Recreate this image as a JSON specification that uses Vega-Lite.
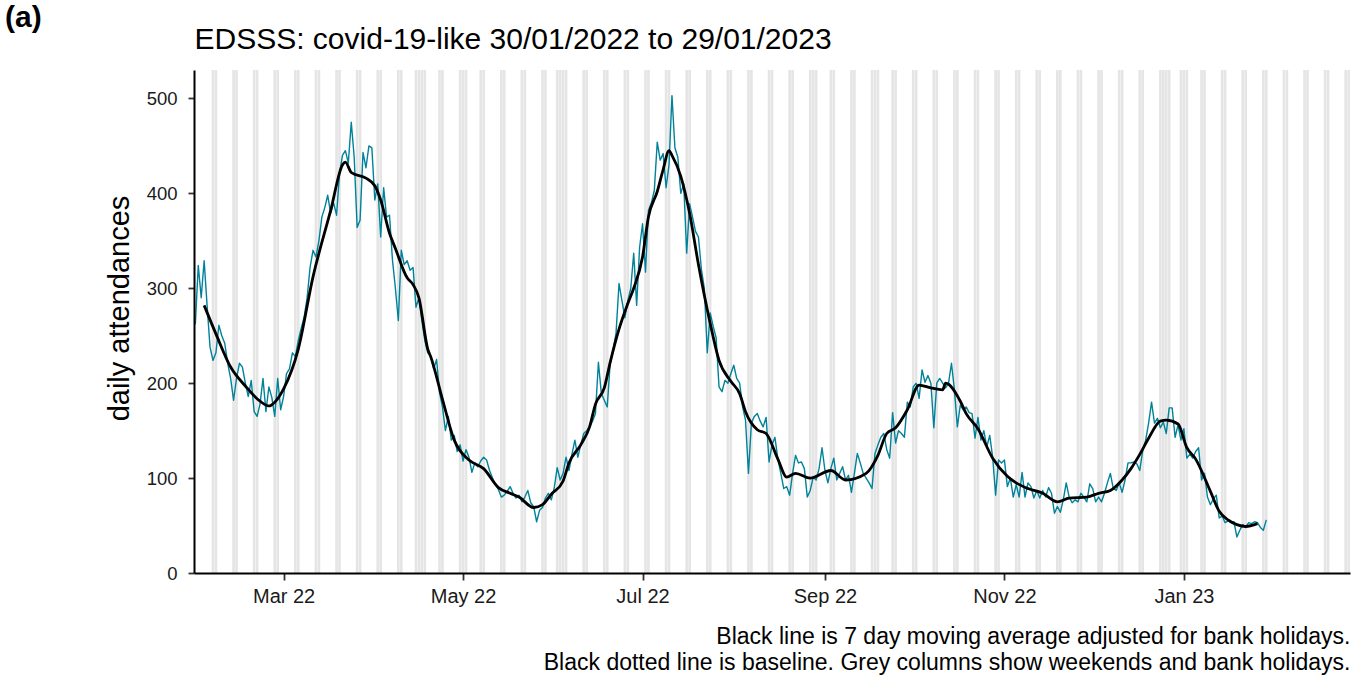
{
"$schema": "https://vega.github.io/schema/vega-lite/v6.json",
"width": 1156,
"height": 503,
"autosize": {"type": "none"},
"padding": {"left": 194, "top": 70, "right": 17, "bottom": 104},
"background": "white",
"config": {"view": {"stroke": null}, "font": "Liberation Sans"},
"title": {"text": "(a)", "anchor": "start", "frame": "group", "dx": -189, "offset": -33, "baseline": "alphabetic", "fontSize": 30, "fontWeight": "bold", "color": "black", "font": "Liberation Sans"},
"datasets": {
"grey": [
{"g":"2022-02-05"},{"g":"2022-02-06"},{"g":"2022-02-12"},{"g":"2022-02-13"},{"g":"2022-02-19"},{"g":"2022-02-20"},{"g":"2022-02-26"},{"g":"2022-02-27"},
{"g":"2022-03-05"},{"g":"2022-03-06"},{"g":"2022-03-12"},{"g":"2022-03-13"},{"g":"2022-03-19"},{"g":"2022-03-20"},{"g":"2022-03-26"},{"g":"2022-03-27"},
{"g":"2022-04-02"},{"g":"2022-04-03"},{"g":"2022-04-09"},{"g":"2022-04-10"},{"g":"2022-04-15"},{"g":"2022-04-16"},{"g":"2022-04-17"},{"g":"2022-04-18"},{"g":"2022-04-23"},{"g":"2022-04-24"},{"g":"2022-04-30"},
{"g":"2022-05-01"},{"g":"2022-05-02"},{"g":"2022-05-07"},{"g":"2022-05-08"},{"g":"2022-05-14"},{"g":"2022-05-15"},{"g":"2022-05-21"},{"g":"2022-05-22"},{"g":"2022-05-28"},{"g":"2022-05-29"},
{"g":"2022-06-02"},{"g":"2022-06-03"},{"g":"2022-06-04"},{"g":"2022-06-05"},{"g":"2022-06-11"},{"g":"2022-06-12"},{"g":"2022-06-18"},{"g":"2022-06-19"},{"g":"2022-06-25"},{"g":"2022-06-26"},
{"g":"2022-07-02"},{"g":"2022-07-03"},{"g":"2022-07-09"},{"g":"2022-07-10"},{"g":"2022-07-16"},{"g":"2022-07-17"},{"g":"2022-07-23"},{"g":"2022-07-24"},{"g":"2022-07-30"},{"g":"2022-07-31"},
{"g":"2022-08-06"},{"g":"2022-08-07"},{"g":"2022-08-13"},{"g":"2022-08-14"},{"g":"2022-08-20"},{"g":"2022-08-21"},{"g":"2022-08-27"},{"g":"2022-08-28"},{"g":"2022-08-29"},
{"g":"2022-09-03"},{"g":"2022-09-04"},{"g":"2022-09-10"},{"g":"2022-09-11"},{"g":"2022-09-17"},{"g":"2022-09-18"},{"g":"2022-09-19"},{"g":"2022-09-24"},{"g":"2022-09-25"},
{"g":"2022-10-01"},{"g":"2022-10-02"},{"g":"2022-10-08"},{"g":"2022-10-09"},{"g":"2022-10-15"},{"g":"2022-10-16"},{"g":"2022-10-22"},{"g":"2022-10-23"},{"g":"2022-10-29"},{"g":"2022-10-30"},
{"g":"2022-11-05"},{"g":"2022-11-06"},{"g":"2022-11-12"},{"g":"2022-11-13"},{"g":"2022-11-19"},{"g":"2022-11-20"},{"g":"2022-11-26"},{"g":"2022-11-27"},
{"g":"2022-12-03"},{"g":"2022-12-04"},{"g":"2022-12-10"},{"g":"2022-12-11"},{"g":"2022-12-17"},{"g":"2022-12-18"},{"g":"2022-12-24"},{"g":"2022-12-25"},{"g":"2022-12-26"},{"g":"2022-12-27"},{"g":"2022-12-31"},
{"g":"2023-01-01"},{"g":"2023-01-02"},{"g":"2023-01-07"},{"g":"2023-01-08"},{"g":"2023-01-14"},{"g":"2023-01-15"},{"g":"2023-01-21"},{"g":"2023-01-22"},{"g":"2023-01-28"},{"g":"2023-01-29"},
{"g":"2023-02-04"},{"g":"2023-02-05"},{"g":"2023-02-11"},{"g":"2023-02-12"},{"g":"2023-02-18"},{"g":"2023-02-19"},{"g":"2023-02-25"},{"g":"2023-02-26"}
],
"daily": [
{"date":"2022-01-30","n":262},{"date":"2022-01-31","n":324},
{"date":"2022-02-01","n":290},{"date":"2022-02-02","n":329},{"date":"2022-02-03","n":282},{"date":"2022-02-04","n":238},{"date":"2022-02-05","n":224},{"date":"2022-02-06","n":232},{"date":"2022-02-07","n":261},
{"date":"2022-02-08","n":250},{"date":"2022-02-09","n":242},{"date":"2022-02-10","n":221},{"date":"2022-02-11","n":205},{"date":"2022-02-12","n":182},{"date":"2022-02-13","n":205},{"date":"2022-02-14","n":221},
{"date":"2022-02-15","n":217},{"date":"2022-02-16","n":200},{"date":"2022-02-17","n":186},{"date":"2022-02-18","n":203},{"date":"2022-02-19","n":170},{"date":"2022-02-20","n":165},{"date":"2022-02-21","n":178},
{"date":"2022-02-22","n":205},{"date":"2022-02-23","n":170},{"date":"2022-02-24","n":196},{"date":"2022-02-25","n":185},{"date":"2022-02-26","n":165},{"date":"2022-02-27","n":205},{"date":"2022-02-28","n":172},
{"date":"2022-03-01","n":186},{"date":"2022-03-02","n":210},{"date":"2022-03-03","n":215},{"date":"2022-03-04","n":232},{"date":"2022-03-05","n":228},{"date":"2022-03-06","n":245},{"date":"2022-03-07","n":258},
{"date":"2022-03-08","n":270},{"date":"2022-03-09","n":290},{"date":"2022-03-10","n":322},{"date":"2022-03-11","n":340},{"date":"2022-03-12","n":333},{"date":"2022-03-13","n":350},{"date":"2022-03-14","n":375},
{"date":"2022-03-15","n":385},{"date":"2022-03-16","n":398},{"date":"2022-03-17","n":379},{"date":"2022-03-18","n":390},{"date":"2022-03-19","n":377},{"date":"2022-03-20","n":420},{"date":"2022-03-21","n":440},
{"date":"2022-03-22","n":445},{"date":"2022-03-23","n":432},{"date":"2022-03-24","n":475},{"date":"2022-03-25","n":438},{"date":"2022-03-26","n":364},{"date":"2022-03-27","n":372},{"date":"2022-03-28","n":443},
{"date":"2022-03-29","n":427},{"date":"2022-03-30","n":450},{"date":"2022-03-31","n":448},
{"date":"2022-04-01","n":393},{"date":"2022-04-02","n":410},{"date":"2022-04-03","n":354},{"date":"2022-04-04","n":406},{"date":"2022-04-05","n":375},{"date":"2022-04-06","n":377},{"date":"2022-04-07","n":330},
{"date":"2022-04-08","n":300},{"date":"2022-04-09","n":266},{"date":"2022-04-10","n":340},{"date":"2022-04-11","n":325},{"date":"2022-04-12","n":329},{"date":"2022-04-13","n":319},{"date":"2022-04-14","n":322},
{"date":"2022-04-15","n":280},{"date":"2022-04-16","n":290},{"date":"2022-04-17","n":266},{"date":"2022-04-18","n":245},{"date":"2022-04-19","n":232},{"date":"2022-04-20","n":228},{"date":"2022-04-21","n":215},
{"date":"2022-04-22","n":225},{"date":"2022-04-23","n":190},{"date":"2022-04-24","n":175},{"date":"2022-04-25","n":150},{"date":"2022-04-26","n":165},{"date":"2022-04-27","n":140},{"date":"2022-04-28","n":145},
{"date":"2022-04-29","n":128},{"date":"2022-04-30","n":135},
{"date":"2022-05-01","n":118},{"date":"2022-05-02","n":130},{"date":"2022-05-03","n":122},{"date":"2022-05-04","n":106},{"date":"2022-05-05","n":116},{"date":"2022-05-06","n":112},{"date":"2022-05-07","n":118},
{"date":"2022-05-08","n":122},{"date":"2022-05-09","n":119},{"date":"2022-05-10","n":108},{"date":"2022-05-11","n":100},{"date":"2022-05-12","n":93},{"date":"2022-05-13","n":88},{"date":"2022-05-14","n":80},
{"date":"2022-05-15","n":82},{"date":"2022-05-16","n":86},{"date":"2022-05-17","n":91},{"date":"2022-05-18","n":84},{"date":"2022-05-19","n":79},{"date":"2022-05-20","n":82},{"date":"2022-05-21","n":75},
{"date":"2022-05-22","n":80},{"date":"2022-05-23","n":87},{"date":"2022-05-24","n":74},{"date":"2022-05-25","n":70},{"date":"2022-05-26","n":54},{"date":"2022-05-27","n":66},{"date":"2022-05-28","n":69},
{"date":"2022-05-29","n":79},{"date":"2022-05-30","n":84},{"date":"2022-05-31","n":77},
{"date":"2022-06-01","n":90},{"date":"2022-06-02","n":111},{"date":"2022-06-03","n":98},{"date":"2022-06-04","n":105},{"date":"2022-06-05","n":122},{"date":"2022-06-06","n":108},{"date":"2022-06-07","n":125},
{"date":"2022-06-08","n":140},{"date":"2022-06-09","n":122},{"date":"2022-06-10","n":135},{"date":"2022-06-11","n":147},{"date":"2022-06-12","n":150},{"date":"2022-06-13","n":154},{"date":"2022-06-14","n":160},
{"date":"2022-06-15","n":168},{"date":"2022-06-16","n":222},{"date":"2022-06-17","n":189},{"date":"2022-06-18","n":182},{"date":"2022-06-19","n":175},{"date":"2022-06-20","n":221},{"date":"2022-06-21","n":235},
{"date":"2022-06-22","n":253},{"date":"2022-06-23","n":305},{"date":"2022-06-24","n":287},{"date":"2022-06-25","n":269},{"date":"2022-06-26","n":287},{"date":"2022-06-27","n":300},{"date":"2022-06-28","n":337},
{"date":"2022-06-29","n":282},{"date":"2022-06-30","n":343},
{"date":"2022-07-01","n":368},{"date":"2022-07-02","n":317},{"date":"2022-07-03","n":382},{"date":"2022-07-04","n":390},{"date":"2022-07-05","n":403},{"date":"2022-07-06","n":454},{"date":"2022-07-07","n":435},
{"date":"2022-07-08","n":442},{"date":"2022-07-09","n":406},{"date":"2022-07-10","n":430},{"date":"2022-07-11","n":503},{"date":"2022-07-12","n":448},{"date":"2022-07-13","n":438},{"date":"2022-07-14","n":400},
{"date":"2022-07-15","n":410},{"date":"2022-07-16","n":337},{"date":"2022-07-17","n":389},{"date":"2022-07-18","n":375},{"date":"2022-07-19","n":360},{"date":"2022-07-20","n":354},{"date":"2022-07-21","n":320},
{"date":"2022-07-22","n":300},{"date":"2022-07-23","n":232},{"date":"2022-07-24","n":274},{"date":"2022-07-25","n":260},{"date":"2022-07-26","n":248},{"date":"2022-07-27","n":196},{"date":"2022-07-28","n":191},
{"date":"2022-07-29","n":203},{"date":"2022-07-30","n":200},{"date":"2022-07-31","n":210},
{"date":"2022-08-01","n":219},{"date":"2022-08-02","n":205},{"date":"2022-08-03","n":200},{"date":"2022-08-04","n":175},{"date":"2022-08-05","n":161},{"date":"2022-08-06","n":105},{"date":"2022-08-07","n":158},
{"date":"2022-08-08","n":165},{"date":"2022-08-09","n":168},{"date":"2022-08-10","n":160},{"date":"2022-08-11","n":154},{"date":"2022-08-12","n":164},{"date":"2022-08-13","n":117},{"date":"2022-08-14","n":135},
{"date":"2022-08-15","n":143},{"date":"2022-08-16","n":120},{"date":"2022-08-17","n":105},{"date":"2022-08-18","n":89},{"date":"2022-08-19","n":91},{"date":"2022-08-20","n":82},{"date":"2022-08-21","n":105},
{"date":"2022-08-22","n":124},{"date":"2022-08-23","n":116},{"date":"2022-08-24","n":117},{"date":"2022-08-25","n":110},{"date":"2022-08-26","n":80},{"date":"2022-08-27","n":87},{"date":"2022-08-28","n":101},
{"date":"2022-08-29","n":98},{"date":"2022-08-30","n":110},{"date":"2022-08-31","n":132},
{"date":"2022-09-01","n":108},{"date":"2022-09-02","n":95},{"date":"2022-09-03","n":110},{"date":"2022-09-04","n":121},{"date":"2022-09-05","n":98},{"date":"2022-09-06","n":105},{"date":"2022-09-07","n":112},
{"date":"2022-09-08","n":98},{"date":"2022-09-09","n":103},{"date":"2022-09-10","n":85},{"date":"2022-09-11","n":105},{"date":"2022-09-12","n":126},{"date":"2022-09-13","n":116},{"date":"2022-09-14","n":105},
{"date":"2022-09-15","n":100},{"date":"2022-09-16","n":95},{"date":"2022-09-17","n":89},{"date":"2022-09-18","n":126},{"date":"2022-09-19","n":135},{"date":"2022-09-20","n":143},{"date":"2022-09-21","n":147},
{"date":"2022-09-22","n":130},{"date":"2022-09-23","n":121},{"date":"2022-09-24","n":169},{"date":"2022-09-25","n":137},{"date":"2022-09-26","n":150},{"date":"2022-09-27","n":147},{"date":"2022-09-28","n":143},
{"date":"2022-09-29","n":180},{"date":"2022-09-30","n":175},
{"date":"2022-10-01","n":196},{"date":"2022-10-02","n":200},{"date":"2022-10-03","n":184},{"date":"2022-10-04","n":214},{"date":"2022-10-05","n":201},{"date":"2022-10-06","n":208},{"date":"2022-10-07","n":200},
{"date":"2022-10-08","n":153},{"date":"2022-10-09","n":200},{"date":"2022-10-10","n":205},{"date":"2022-10-11","n":200},{"date":"2022-10-12","n":195},{"date":"2022-10-13","n":200},{"date":"2022-10-14","n":221},
{"date":"2022-10-15","n":193},{"date":"2022-10-16","n":154},{"date":"2022-10-17","n":177},{"date":"2022-10-18","n":172},{"date":"2022-10-19","n":175},{"date":"2022-10-20","n":169},{"date":"2022-10-21","n":168},
{"date":"2022-10-22","n":142},{"date":"2022-10-23","n":164},{"date":"2022-10-24","n":140},{"date":"2022-10-25","n":150},{"date":"2022-10-26","n":133},{"date":"2022-10-27","n":145},{"date":"2022-10-28","n":122},
{"date":"2022-10-29","n":82},{"date":"2022-10-30","n":119},{"date":"2022-10-31","n":116},
{"date":"2022-11-01","n":119},{"date":"2022-11-02","n":91},{"date":"2022-11-03","n":100},{"date":"2022-11-04","n":80},{"date":"2022-11-05","n":93},{"date":"2022-11-06","n":80},{"date":"2022-11-07","n":106},
{"date":"2022-11-08","n":80},{"date":"2022-11-09","n":95},{"date":"2022-11-10","n":91},{"date":"2022-11-11","n":79},{"date":"2022-11-12","n":87},{"date":"2022-11-13","n":79},{"date":"2022-11-14","n":87},
{"date":"2022-11-15","n":80},{"date":"2022-11-16","n":90},{"date":"2022-11-17","n":84},{"date":"2022-11-18","n":63},{"date":"2022-11-19","n":70},{"date":"2022-11-20","n":64},{"date":"2022-11-21","n":77},
{"date":"2022-11-22","n":95},{"date":"2022-11-23","n":80},{"date":"2022-11-24","n":74},{"date":"2022-11-25","n":77},{"date":"2022-11-26","n":75},{"date":"2022-11-27","n":84},{"date":"2022-11-28","n":80},
{"date":"2022-11-29","n":75},{"date":"2022-11-30","n":94},
{"date":"2022-12-01","n":89},{"date":"2022-12-02","n":75},{"date":"2022-12-03","n":80},{"date":"2022-12-04","n":75},{"date":"2022-12-05","n":84},{"date":"2022-12-06","n":95},{"date":"2022-12-07","n":105},
{"date":"2022-12-08","n":89},{"date":"2022-12-09","n":87},{"date":"2022-12-10","n":95},{"date":"2022-12-11","n":85},{"date":"2022-12-12","n":98},{"date":"2022-12-13","n":116},{"date":"2022-12-14","n":116},
{"date":"2022-12-15","n":117},{"date":"2022-12-16","n":115},{"date":"2022-12-17","n":108},{"date":"2022-12-18","n":129},{"date":"2022-12-19","n":140},{"date":"2022-12-20","n":158},{"date":"2022-12-21","n":180},
{"date":"2022-12-22","n":158},{"date":"2022-12-23","n":163},{"date":"2022-12-24","n":153},{"date":"2022-12-25","n":159},{"date":"2022-12-26","n":147},{"date":"2022-12-27","n":174},{"date":"2022-12-28","n":174},
{"date":"2022-12-29","n":143},{"date":"2022-12-30","n":156},{"date":"2022-12-31","n":140},
{"date":"2023-01-01","n":152},{"date":"2023-01-02","n":121},{"date":"2023-01-03","n":125},{"date":"2023-01-04","n":121},{"date":"2023-01-05","n":128},{"date":"2023-01-06","n":132},{"date":"2023-01-07","n":98},
{"date":"2023-01-08","n":105},{"date":"2023-01-09","n":80},{"date":"2023-01-10","n":72},{"date":"2023-01-11","n":78},{"date":"2023-01-12","n":82},{"date":"2023-01-13","n":58},{"date":"2023-01-14","n":60},
{"date":"2023-01-15","n":53},{"date":"2023-01-16","n":55},{"date":"2023-01-17","n":53},{"date":"2023-01-18","n":54},{"date":"2023-01-19","n":38},{"date":"2023-01-20","n":45},{"date":"2023-01-21","n":51},
{"date":"2023-01-22","n":48},{"date":"2023-01-23","n":53},{"date":"2023-01-24","n":52},{"date":"2023-01-25","n":54},{"date":"2023-01-26","n":53},{"date":"2023-01-27","n":48},{"date":"2023-01-28","n":45},
{"date":"2023-01-29","n":56}
],
"ma": [
{"date":"2022-02-02","n":282},{"date":"2022-02-06","n":252},{"date":"2022-02-11","n":217},{"date":"2022-02-16","n":197},{"date":"2022-02-21","n":181},{"date":"2022-02-24","n":176},{"date":"2022-02-26","n":180},
{"date":"2022-03-01","n":194},{"date":"2022-03-06","n":236},{"date":"2022-03-11","n":312},{"date":"2022-03-17","n":382},{"date":"2022-03-21","n":430},{"date":"2022-03-22","n":433},{"date":"2022-03-24","n":422},
{"date":"2022-03-29","n":416},{"date":"2022-04-01","n":408},{"date":"2022-04-03","n":393},{"date":"2022-04-06","n":358},{"date":"2022-04-08","n":342},{"date":"2022-04-12","n":311},{"date":"2022-04-14","n":304},
{"date":"2022-04-16","n":290},{"date":"2022-04-19","n":236},{"date":"2022-04-20","n":228},{"date":"2022-04-24","n":183},{"date":"2022-04-28","n":140},{"date":"2022-05-03","n":119},{"date":"2022-05-08","n":110},
{"date":"2022-05-13","n":90},{"date":"2022-05-17","n":84},{"date":"2022-05-20","n":80},{"date":"2022-05-25","n":69},{"date":"2022-05-28","n":72},{"date":"2022-05-31","n":83},{"date":"2022-06-04","n":97},
{"date":"2022-06-06","n":116},{"date":"2022-06-10","n":135},{"date":"2022-06-13","n":154},{"date":"2022-06-15","n":178},{"date":"2022-06-18","n":195},{"date":"2022-06-20","n":222},{"date":"2022-06-23","n":257},
{"date":"2022-06-26","n":284},{"date":"2022-06-28","n":300},{"date":"2022-07-01","n":333},{"date":"2022-07-03","n":375},{"date":"2022-07-06","n":402},{"date":"2022-07-08","n":425},{"date":"2022-07-10","n":445},
{"date":"2022-07-11","n":440},{"date":"2022-07-14","n":418},{"date":"2022-07-17","n":379},{"date":"2022-07-20","n":325},{"date":"2022-07-24","n":263},{"date":"2022-07-27","n":224},{"date":"2022-07-31","n":202},
{"date":"2022-08-03","n":189},{"date":"2022-08-05","n":170},{"date":"2022-08-09","n":151},{"date":"2022-08-12","n":147},{"date":"2022-08-16","n":120},{"date":"2022-08-19","n":101},{"date":"2022-08-22","n":105},
{"date":"2022-08-27","n":100},{"date":"2022-09-03","n":108},{"date":"2022-09-08","n":98},{"date":"2022-09-15","n":105},{"date":"2022-09-19","n":124},{"date":"2022-09-22","n":147},{"date":"2022-09-25","n":153},
{"date":"2022-09-29","n":172},{"date":"2022-10-03","n":198},{"date":"2022-10-07","n":195},{"date":"2022-10-11","n":193},{"date":"2022-10-12","n":200},{"date":"2022-10-17","n":181},{"date":"2022-10-19","n":168},
{"date":"2022-10-23","n":152},{"date":"2022-10-28","n":121},{"date":"2022-11-02","n":102},{"date":"2022-11-05","n":95},{"date":"2022-11-09","n":89},{"date":"2022-11-14","n":84},{"date":"2022-11-19","n":75},
{"date":"2022-11-23","n":79},{"date":"2022-11-29","n":80},{"date":"2022-12-03","n":84},{"date":"2022-12-07","n":87},{"date":"2022-12-11","n":98},{"date":"2022-12-14","n":110},{"date":"2022-12-17","n":125},
{"date":"2022-12-20","n":142},{"date":"2022-12-24","n":160},{"date":"2022-12-26","n":161},{"date":"2022-12-30","n":157},{"date":"2023-01-02","n":132},{"date":"2023-01-05","n":120},{"date":"2023-01-10","n":86},
{"date":"2023-01-13","n":65},{"date":"2023-01-16","n":56},{"date":"2023-01-19","n":51},{"date":"2023-01-22","n":49},{"date":"2023-01-26","n":52}
]
},
"layer": [
{
"data": {"name": "grey"},
"mark": {"type": "rule", "color": "#e5e5e5", "strokeWidth": 2.65, "strokeCap": "butt"},
"encoding": {
"x": {"field": "g", "type": "temporal",
"scale": {"type": "utc", "domain": [{"year": 2022, "month": 1, "date": 29, "hours": 13, "minutes": 12, "utc": true}, {"year": 2023, "month": 2, "date": 26, "hours": 10, "minutes": 48, "utc": true}]},
"axis": {"orient": "bottom", "zindex": 1,
"values": [{"year": 2022, "month": 3, "date": 1, "utc": true}, {"year": 2022, "month": 5, "date": 1, "utc": true}, {"year": 2022, "month": 7, "date": 1, "utc": true}, {"year": 2022, "month": 9, "date": 1, "utc": true}, {"year": 2022, "month": 11, "date": 1, "utc": true}, {"year": 2023, "month": 1, "date": 1, "utc": true}],
"format": "%b %y", "labelFontSize": 20, "labelColor": "#1a1a1a", "labelPadding": 6, "labelFlush": false,
"tickColor": "#333333", "tickSize": 7, "tickWidth": 1.8, "domainColor": "black", "domainWidth": 2, "grid": false,
"title": ["Black line is 7 day moving average adjusted for bank holidays.\u00a0\u00a0\u00a0", "Black dotted line is baseline. Grey columns show weekends and bank holidays."],
"titleFontSize": 23, "titleFontWeight": "normal", "titleColor": "black", "titleAnchor": "end", "titleAlign": "right", "titlePadding": 19, "titleLineHeight": 26}
}
}
},
{
"data": {"name": "daily"},
"mark": {"type": "line", "color": "#00829A", "strokeWidth": 1.4, "strokeJoin": "round"},
"encoding": {
"x": {"field": "date", "type": "temporal",
"scale": {"type": "utc", "domain": [{"year": 2022, "month": 1, "date": 29, "hours": 13, "minutes": 12, "utc": true}, {"year": 2023, "month": 2, "date": 26, "hours": 10, "minutes": 48, "utc": true}]},
"axis": {"orient": "top", "labels": false, "ticks": false, "domain": false, "grid": false,
"title": "EDSSS: covid-19-like 30/01/2022 to 29/01/2023", "titleFontSize": 30, "titleFontWeight": "normal", "titleColor": "black", "titleAnchor": "start", "titleAlign": "left", "titleBaseline": "alphabetic", "titlePadding": 22}},
"y": {"field": "n", "type": "quantitative",
"scale": {"domain": [0, 530], "nice": false},
"axis": {"values": [0, 100, 200, 300, 400, 500], "zindex": 1, "grid": false,
"labelFontSize": 18.5, "labelColor": "#1a1a1a", "labelPadding": 11,
"tickColor": "#333333", "tickSize": 6, "tickWidth": 1.8, "domainColor": "black", "domainWidth": 2,
"title": "daily attendances", "titleFontSize": 29, "titleFontWeight": "normal", "titleColor": "black", "titlePadding": 12, "titleY": 238}}
}
},
{
"data": {"name": "ma"},
"mark": {"type": "line", "color": "black", "strokeWidth": 2.8, "interpolate": "monotone", "strokeJoin": "round"},
"encoding": {
"x": {"field": "date", "type": "temporal",
"scale": {"type": "utc", "domain": [{"year": 2022, "month": 1, "date": 29, "hours": 13, "minutes": 12, "utc": true}, {"year": 2023, "month": 2, "date": 26, "hours": 10, "minutes": 48, "utc": true}]},
"axis": null},
"y": {"field": "n", "type": "quantitative", "scale": {"domain": [0, 530], "nice": false},
"axis": {"values": [0, 100, 200, 300, 400, 500], "zindex": 1, "grid": false,
"labelFontSize": 18.5, "labelColor": "#1a1a1a", "labelPadding": 11,
"tickColor": "#333333", "tickSize": 6, "tickWidth": 1.8, "domainColor": "black", "domainWidth": 2,
"title": "daily attendances", "titleFontSize": 29, "titleFontWeight": "normal", "titleColor": "black", "titlePadding": 12, "titleY": 238}}
}
}
],
"resolve": {"axis": {"x": "independent"}}
}
